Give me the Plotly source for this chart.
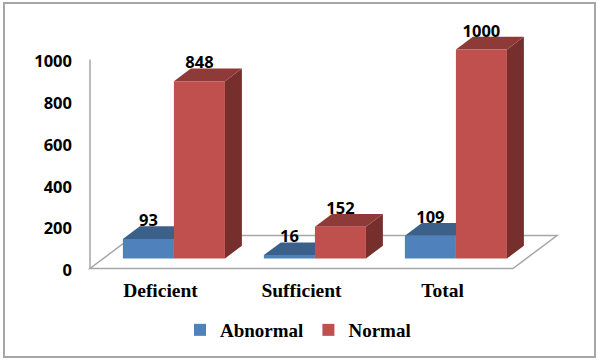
import plotly.graph_objects as go

categories = ["Deficient", "Sufficient", "Total"]
abnormal = [93, 16, 109]
normal = [848, 152, 1000]
y_ticks = [0, 200, 400, 600, 800, 1000]

W, H = 599, 361
L, R, T, B = 80, 570, 10, 271          # plot area in page pixels
PX_ZERO_X, PX_CAT, PX_ZERO_Y, PX_UNIT = 160.5, 141, 268.5, 0.209
X_RANGE = [(L - PX_ZERO_X) / PX_CAT, (R - PX_ZERO_X) / PX_CAT]
Y_RANGE = [(PX_ZERO_Y - B) / PX_UNIT, (PX_ZERO_Y - T) / PX_UNIT]
DX, DY = 44 / PX_CAT, 33 / PX_UNIT     # full floor depth in axis units
D0, D1 = 0.305, 0.69                   # bar depth span, fraction of the floor
BAR_W = 0.362
BLUE, BLUE_TOP = "#4f81bd", "#3b6089"
RED, RED_TOP, RED_SIDE = "#c0504d", "#8e3a38", "#772f2e"
GRAY = "#a6a6a6"
LABEL_GAP = 17 / PX_UNIT


def poly(points, fill):
    path = "M" + "L".join(f"{x},{y}" for x, y in points) + "Z"
    return dict(type="path", path=path, xref="x", yref="y", layer="below",
                fillcolor=fill, line=dict(width=0))


shapes = []
# floor
shapes.append(dict(type="path", xref="x", yref="y", layer="below", fillcolor="white",
                   line=dict(color=GRAY, width=1.5),
                   path=f"M-0.5,0L2.5,0L{2.5 + DX},{DY}L{-0.5 + DX},{DY}Z"))
# value axis line
shapes.append(dict(type="line", xref="x", yref="y", layer="below", x0=-0.5, x1=-0.5, y0=0, y1=1000,
                   line=dict(color=GRAY, width=1.5)))
# page frame
px = lambda v: (v - L) / (R - L)
py = lambda v: (B - v) / (B - T)
shapes.append(dict(type="rect", xref="paper", yref="paper", layer="below",
                   x0=px(4), x1=px(595), y0=py(357), y1=py(3),
                   line=dict(color=GRAY, width=2), fillcolor="rgba(0,0,0,0)"))

blue_x, red_x, base = [], [], DY * D0
for i, (a, n) in enumerate(zip(abnormal, normal)):
    c = i + DX * D0
    blue_x.append(c - BAR_W / 2)
    red_x.append(c + BAR_W / 2)
    for left, v, top, side in ((c - BAR_W, a, BLUE_TOP, BLUE_TOP), (c, n, RED_TOP, RED_SIDE)):
        right = left + BAR_W
        d = D1 - D0
        shapes.append(poly([(right, base), (right + DX * d, base + DY * d),
                            (right + DX * d, base + DY * d + v), (right, base + v)], side))
        shapes.append(poly([(left, base + v), (right, base + v),
                            (right + DX * d, base + v + DY * d), (left + DX * d, base + v + DY * d)], top))

fig = go.Figure()
fig.add_trace(go.Bar(name="Abnormal", x=blue_x, y=abnormal, base=base, width=BAR_W,
                     marker=dict(color=BLUE, line=dict(width=0))))
fig.add_trace(go.Bar(name="Normal", x=red_x, y=normal, base=base, width=BAR_W,
                     marker=dict(color=RED, line=dict(width=0))))
num_font = dict(family="Open Sans", size=16.5, color="black", weight=700)
for xs, vals in ((blue_x, abnormal), (red_x, normal)):
    fig.add_trace(go.Scatter(x=xs, y=[v + base + LABEL_GAP for v in vals], mode="text",
                             text=[str(v) for v in vals], textposition="middle center",
                             textfont=num_font, showlegend=False, hoverinfo="skip"))

serif = dict(family="Liberation Serif", size=19, color="black", weight=700)
fig.update_layout(
    width=W, height=H, barmode="overlay", shapes=shapes,
    margin=dict(l=L, r=W - R, t=T, b=H - B, pad=0),
    paper_bgcolor="white", plot_bgcolor="rgba(0,0,0,0)",
    xaxis=dict(range=X_RANGE, tickvals=[0, 1, 2], ticktext=categories, showgrid=False, zeroline=False,
               showline=False, ticks="", ticklabelstandoff=5, tickfont=dict(serif, size=19.5)),
    yaxis=dict(range=Y_RANGE, tickvals=y_ticks, showgrid=False, zeroline=False, showline=False,
               ticks="", ticklabelstandoff=7, ticklabelshift=2, tickfont=num_font),
    legend=dict(orientation="h", x=px(180), xanchor="left", y=py(330), yanchor="middle",
                font=serif, bgcolor="rgba(0,0,0,0)", itemwidth=30, traceorder="normal"),
    showlegend=True,
)
fig.write_html("out.html", post_script="document.body.style.margin='0';",
               config={"displayModeBar": False})
